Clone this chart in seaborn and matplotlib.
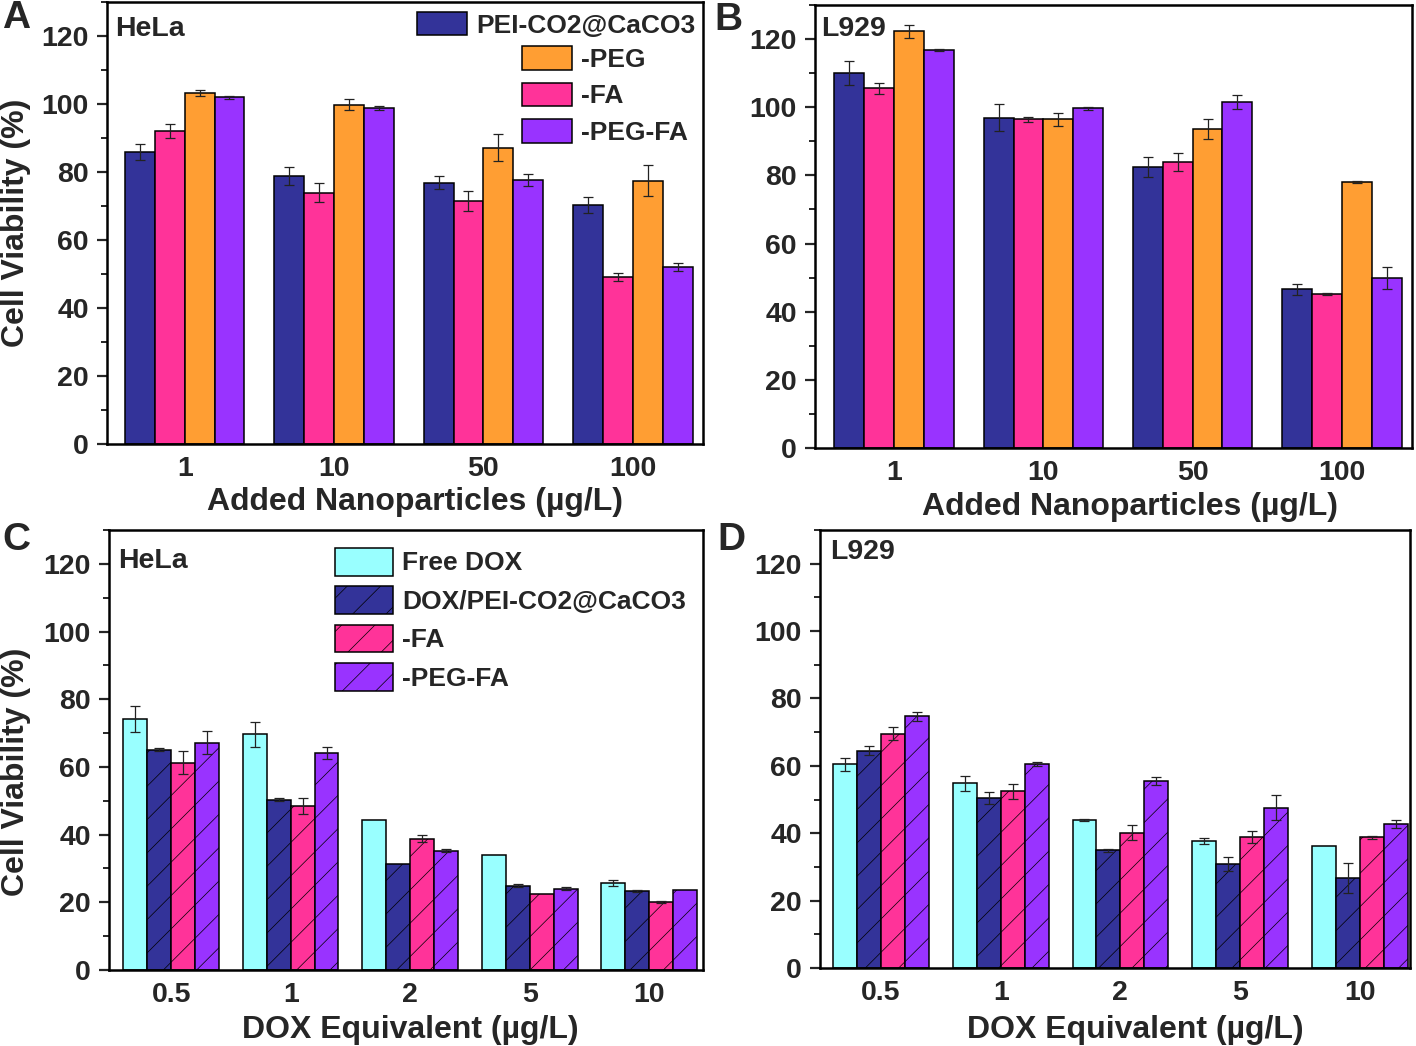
import numpy as np
import pandas as pd
import matplotlib
matplotlib.use("Agg")
import matplotlib.pyplot as plt
import seaborn as sns

# ---------------- data ----------------
np_conc = ["1", "10", "50", "100"]
dox_conc = ["0.5", "1", "2", "5", "10"]

# Panels A/B series (bar order)
ab_series = ["PEI-CO2@CaCO3", "-FA", "-PEG", "-PEG-FA"]
# Panel A (HeLa)
a_carrier = [85.9, 78.8, 76.8, 70.3]
a_carrier_err = [2.3, 2.6, 1.9, 2.4]
a_fa = [92.1, 73.9, 71.4, 49.1]
a_fa_err = [2.0, 2.8, 3.0, 1.1]
a_peg = [103.3, 99.8, 87.2, 77.5]
a_peg_err = [0.9, 1.6, 3.9, 4.5]
a_pegfa = [102.0, 98.8, 77.6, 52.0]
a_pegfa_err = [0.4, 0.6, 1.8, 1.2]
# Panel B (L929)
b_carrier = [110.1, 96.9, 82.5, 46.6]
b_carrier_err = [3.5, 4.0, 2.9, 1.6]
b_fa = [105.5, 96.4, 83.9, 45.1]
b_fa_err = [1.6, 0.6, 2.6, 0.3]
b_peg = [122.3, 96.4, 93.7, 78.0]
b_peg_err = [1.9, 2.0, 2.9, 0.3]
b_pegfa = [116.8, 99.7, 101.6, 49.9]
b_pegfa_err = [0.2, 0.5, 2.0, 3.3]

# Panels C/D series
cd_series = ["Free DOX", "DOX/PEI-CO2@CaCO3", "-FA", "-PEG-FA"]
# Panel C (HeLa)
c_free = [74.2, 69.7, 44.3, 34.1, 25.7]
c_free_err = [3.9, 3.7, 0.0, 0.0, 0.8]
c_carrier = [65.1, 50.3, 31.4, 24.9, 23.4]
c_carrier_err = [0.4, 0.5, 0.0, 0.4, 0.3]
c_fa = [61.3, 48.4, 38.8, 22.5, 20.0]
c_fa_err = [3.3, 2.4, 1.1, 0.0, 0.3]
c_pegfa = [67.2, 64.0, 35.3, 24.0, 23.7]
c_pegfa_err = [3.4, 1.8, 0.5, 0.5, 0.0]
# Panel D (L929)
d_free = [60.4, 54.8, 43.9, 37.7, 36.2]
d_free_err = [2.0, 2.2, 0.3, 0.8, 0.0]
d_carrier = [64.5, 50.5, 34.9, 30.8, 26.7]
d_carrier_err = [1.3, 1.8, 0.5, 2.0, 4.4]
d_fa = [69.5, 52.5, 40.2, 38.9, 38.8]
d_fa_err = [1.9, 2.2, 2.2, 1.8, 0.5]
d_pegfa = [74.7, 60.6, 55.5, 47.5, 42.7]
d_pegfa_err = [1.4, 0.6, 1.1, 3.7, 1.1]

ab_colors = ["#333399", "#FF3399", "#FF9E33", "#9933FF"]
cd_colors = ["#99FFFF", "#333399", "#FF3399", "#9933FF"]

# ---------------- style ----------------
sns.set_style("ticks")
plt.rcParams["font.family"] = ["Liberation Sans", "DejaVu Sans"]
plt.rcParams["font.weight"] = "bold"
plt.rcParams["axes.labelweight"] = "bold"
plt.rcParams["hatch.linewidth"] = 0.5


def long_df(concs, series, values):
    rows = []
    for s, vals in zip(series, values):
        for c, v in zip(concs, vals):
            rows.append({"conc": c, "series": s, "val": v})
    return pd.DataFrame(rows)


def draw(ax, concs, series, values, errs, colors, xlim, hatch=False):
    df = long_df(concs, series, values)
    sns.barplot(data=df, x="conc", y="val", hue="series", order=concs,
                hue_order=series, palette=colors, errorbar=None,
                edgecolor="black", linewidth=1.1, width=0.8, gap=0,
                saturation=1, legend=False, ax=ax)
    for i, (cont, err) in enumerate(zip(ax.containers, errs)):
        for bar, e in zip(cont, err):
            if hatch and i > 0:
                bar.set_hatch("/")
            if e > 0:
                ax.errorbar(bar.get_x() + bar.get_width() / 2, bar.get_height(),
                            yerr=e, fmt="none", ecolor="#222222",
                            elinewidth=0.9, capsize=3.8, capthick=0.9)
    ax.set_ylim(0, 130)
    ax.set_xlim(*xlim)
    ax.set_yticks(np.arange(0, 121, 20))
    ax.set_yticks(np.arange(10, 131, 20), minor=True)
    ax.tick_params(axis="y", which="major", direction="out", length=7,
                   width=1.6, labelsize=20.5, pad=6)
    ax.tick_params(axis="y", which="minor", direction="out", length=4,
                   width=1.4)
    ax.tick_params(axis="x", which="both", length=0, labelsize=20.5, pad=9)
    for lab in ax.get_xticklabels() + ax.get_yticklabels():
        lab.set_fontweight("bold")
    for sp in ax.spines.values():
        sp.set_visible(True)
        sp.set_linewidth(1.8)
        sp.set_color("black")
    ax.set_ylabel("")
    ax.set_xlabel("")


W, H = 1416, 1046
fig = plt.figure(figsize=(W / 100, H / 100), dpi=100)


def px_axes(left, right, top, bottom):
    return fig.add_axes([left / W, 1 - bottom / H, (right - left) / W, (bottom - top) / H])


axA = px_axes(107, 703, 2, 444)
axB = px_axes(815, 1412, 5, 448)
axC = px_axes(109, 703, 530, 970)
axD = px_axes(820, 1410, 530, 968)

draw(axA, np_conc, ab_series, [a_carrier, a_fa, a_peg, a_pegfa],
     [a_carrier_err, a_fa_err, a_peg_err, a_pegfa_err], ab_colors, (-0.52, 3.47))
draw(axB, np_conc, ab_series, [b_carrier, b_fa, b_peg, b_pegfa],
     [b_carrier_err, b_fa_err, b_peg_err, b_pegfa_err], ab_colors, (-0.53, 3.47))
draw(axC, dox_conc, cd_series, [c_free, c_carrier, c_fa, c_pegfa],
     [c_free_err, c_carrier_err, c_fa_err, c_pegfa_err], cd_colors, (-0.52, 4.45), hatch=True)
draw(axD, dox_conc, cd_series, [d_free, d_carrier, d_fa, d_pegfa],
     [d_free_err, d_carrier_err, d_fa_err, d_pegfa_err], cd_colors, (-0.51, 4.42), hatch=True)

# axis labels
for ax in (axA, axC):
    ax.set_ylabel("Cell Viability (%)", fontsize=23, fontweight="bold")
axA.yaxis.set_label_coords(-0.128, 0.5)
axC.yaxis.set_label_coords(-0.131, 0.45)
xl_kw = dict(fontsize=23, fontweight="bold")
axA.set_xlabel("Added Nanoparticles (\u00b5g/L)", **xl_kw)
axB.set_xlabel("Added Nanoparticles (\u00b5g/L)", **xl_kw)
axC.set_xlabel("DOX Equivalent (\u00b5g/L)", **xl_kw)
axD.set_xlabel("DOX Equivalent (\u00b5g/L)", **xl_kw)
axA.xaxis.set_label_coords(0.517, -0.098)
axB.xaxis.set_label_coords(0.528, -0.100)
axC.xaxis.set_label_coords(0.507, -0.103)
axD.xaxis.set_label_coords(0.534, -0.108)

# cell-line labels
axA.text(0.013, 0.94, "HeLa", transform=axA.transAxes, fontsize=20.5,
         fontweight="bold", va="center", ha="left")
axB.text(0.010, 0.945, "L929", transform=axB.transAxes, fontsize=20.5,
         fontweight="bold", va="center", ha="left")
axC.text(0.015, 0.93, "HeLa", transform=axC.transAxes, fontsize=20.5,
         fontweight="bold", va="center", ha="left")
axD.text(0.017, 0.95, "L929", transform=axD.transAxes, fontsize=20.5,
         fontweight="bold", va="center", ha="left")

# panel letters
for letter, x, y in [("A", 16, 18), ("B", 728, 20), ("C", 16, 540), ("D", 731, 540)]:
    fig.text(x / W, 1 - y / H, letter, fontsize=28, fontweight="bold",
             ha="center", va="center")

# legends
legkw = dict(frameon=False, handlelength=1.9, handleheight=1.0,
             handletextpad=0.35, borderpad=0, borderaxespad=0, labelspacing=0.4,
             prop={"weight": "bold", "size": 19})
cA = axA.containers
leg1 = axA.legend([cA[0]], ["PEI-CO2@CaCO3"], loc="upper left",
                  bbox_to_anchor=(0.520, 0.978), **legkw)
axA.add_artist(leg1)
axA.legend([cA[2], cA[1], cA[3]], ["-PEG", "-FA", "-PEG-FA"], loc="upper left",
           bbox_to_anchor=(0.696, 0.900), **legkw)

cC = axC.containers
legkwC = dict(legkw)
legkwC.update(handlelength=2.2, handleheight=1.25, labelspacing=0.4)
axC.legend(list(cC), cd_series, loc="upper left",
           bbox_to_anchor=(0.380, 0.96), **legkwC)

fig.savefig("out.png", dpi=100)
